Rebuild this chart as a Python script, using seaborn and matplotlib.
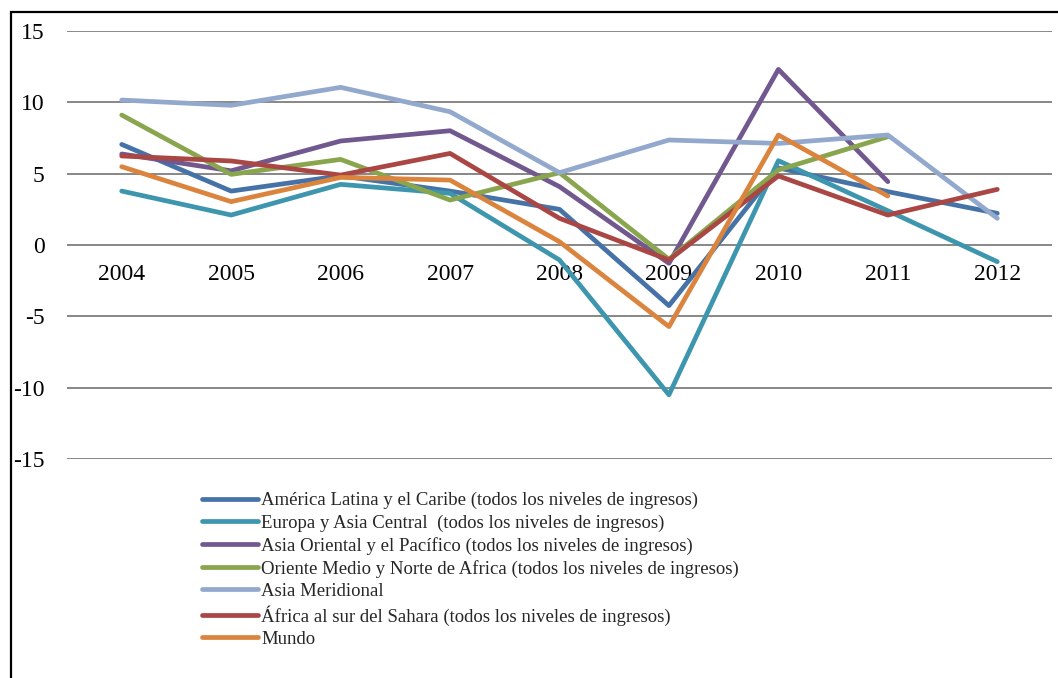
import matplotlib
matplotlib.use("Agg")
import matplotlib.pyplot as plt
from matplotlib.patches import Rectangle
import numpy as np
import pandas as pd
import seaborn as sns

# datos (crecimiento anual, %)
anios = [2004, 2005, 2006, 2007, 2008, 2009, 2010, 2011, 2012]

america_latina = [7.05, 3.78, 4.85, 3.78, 2.50, -4.25, 5.40, 3.74, 2.22]
europa_asia_central = [3.78, 2.10, 4.25, 3.62, -1.05, -10.50, 5.91, 2.40, -1.17]
asia_oriental = [6.38, 5.20, 7.29, 8.01, 4.09, -1.28, 12.31, 4.44, np.nan]
oriente_medio = [9.11, 4.95, 6.00, 3.15, 5.07, -1.00, 5.26, 7.59, np.nan]
asia_meridional = [10.16, 9.79, 11.05, 9.34, 5.07, 7.36, 7.12, 7.71, 1.87]
africa_sahara = [6.24, 5.89, 4.90, 6.42, 1.87, -1.05, 4.84, 2.10, 3.90]
mundo = [5.49, 3.04, 4.74, 4.55, 0.23, -5.72, 7.71, 3.43, np.nan]

nombres = ["América Latina y el Caribe (todos los niveles de ingresos)",
           "Europa y Asia Central  (todos los niveles de ingresos)",
           "Asia Oriental y el Pacífico (todos los niveles de ingresos)",
           "Oriente Medio y Norte de Africa (todos los niveles de ingresos)",
           "Asia Meridional",
           "África al sur del Sahara (todos los niveles de ingresos)",
           "Mundo"]

colores = ["#4572A7", "#3D96AE", "#71588F", "#89A54E", "#92A8CD", "#AA4643", "#DB843D"]

df = pd.DataFrame(dict(zip(nombres, [america_latina, europa_asia_central, asia_oriental,
                                     oriente_medio, asia_meridional, africa_sahara, mundo])),
                  index=anios)

sns.set_theme(style="white")
plt.rcParams['font.family'] = ['Liberation Serif', 'DejaVu Serif']
plt.rcParams['axes.unicode_minus'] = False

fig = plt.figure(figsize=(10.58, 6.78), dpi=100)
ax = fig.add_axes([67/1058, 1-459/678, (1052-67)/1058, (459-31)/678])

sns.lineplot(data=df, palette=colores, dashes=False, linewidth=3.4, ax=ax,
             legend=True)

ax.set_xlim(2003.5, 2012.5)
ax.set_ylim(-15, 15)
ax.set_yticks([-15, -10, -5, 0, 5, 10, 15])
ax.set_xticks(anios)
ax.set_xticklabels([str(a) for a in anios])
ax.yaxis.grid(True, color="#878787", linewidth=1.4)
ax.set_axisbelow(True)
for s in ["top", "right", "left"]:
    ax.spines[s].set_visible(False)
ax.spines["bottom"].set_position(("data", 0))
ax.spines["bottom"].set_visible(False)
ax.tick_params(axis="x", length=0, pad=14, labelsize=17, colors="black")
ax.tick_params(axis="y", length=0, pad=16, labelsize=17, colors="black")
ax.set_xlabel("")
ax.set_ylabel("")

leg = ax.legend(loc="upper left", bbox_to_anchor=(202/1058, 1-492/678),
                bbox_transform=fig.transFigure, frameon=False, fontsize=13.5,
                handlelength=3.0, handletextpad=0.16, labelspacing=0.27,
                borderpad=0, borderaxespad=0)
for line in leg.get_lines():
    line.set_linewidth(3.4)

# marco exterior (recortado a la derecha y abajo)
fig.add_artist(Rectangle((11/1058, -0.2), 1.2, 1.2 - 12/678, transform=fig.transFigure,
                         fill=False, edgecolor="black", linewidth=1.6, clip_on=False))

fig.savefig("out.png", dpi=100)
